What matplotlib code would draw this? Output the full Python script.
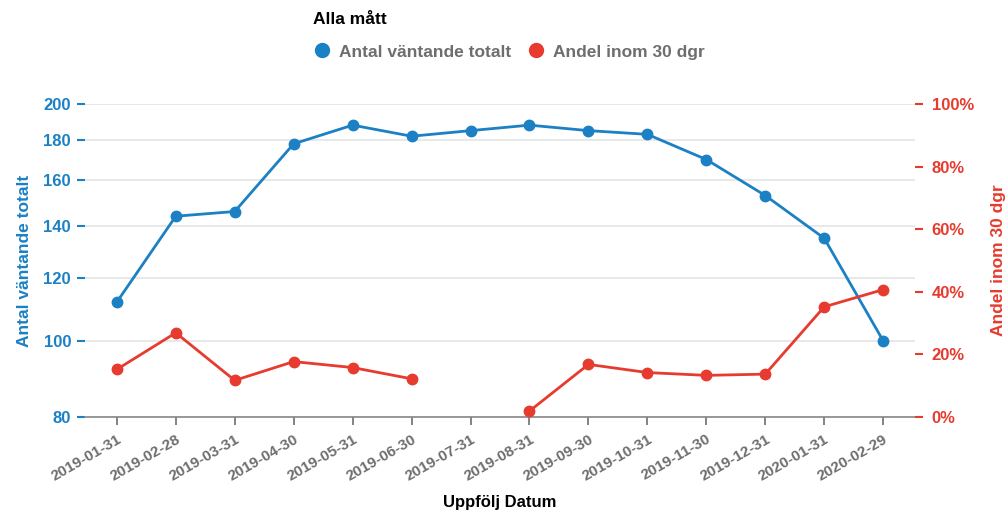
import numpy as np
import matplotlib
matplotlib.use('Agg')
import matplotlib.pyplot as plt
from matplotlib.ticker import FixedLocator, FuncFormatter, NullLocator
from matplotlib.lines import Line2D

plt.rcParams['font.family'] = ['Liberation Sans', 'DejaVu Sans']
plt.rcParams['font.weight'] = 'bold'

# data
datum = ['2019-01-31', '2019-02-28', '2019-03-31', '2019-04-30', '2019-05-31',
         '2019-06-30', '2019-07-31', '2019-08-31', '2019-09-30', '2019-10-31',
         '2019-11-30', '2019-12-31', '2020-01-31', '2020-02-29']
antal = [112, 144, 146, 178, 188, 182, 185, 188, 185, 183, 170, 153, 135, 100]
andel = [0.152, 0.269, 0.117, 0.177, 0.158, 0.122, np.nan, 0.019,
         0.168, 0.142, 0.133, 0.137, 0.352, 0.407]
vanster_ticks = [80, 100, 120, 140, 160, 180, 200]
hoger_ticks = [0, 0.2, 0.4, 0.6, 0.8, 1.0]

bla = '#1b80c4'
rod = '#e63b2e'
gra = '#6e6e6e'

fig = plt.figure(figsize=(10.06, 5.13), dpi=100)
ax = fig.add_axes([85/1006, 1-417/513, (915-85)/1006, (417-104)/513])
x = np.arange(len(datum))

ax.set_yscale('log')
ax.plot(x, antal, '-o', color=bla, lw=2, ms=7.5, zorder=3)
ax.set_ylim(80, 200)
ax.set_xlim(-0.54, len(datum) - 1 + 0.54)
ax.yaxis.set_major_locator(FixedLocator(vanster_ticks))
ax.yaxis.set_minor_locator(NullLocator())
ax.yaxis.set_major_formatter(FuncFormatter(lambda v, p: '%d' % v))
ax.grid(axis='y', color='#e4e4e4', lw=1.2)
ax.set_axisbelow(True)

ax.set_xticks(x)
ax.set_xticklabels(datum, rotation=30, ha='right', rotation_mode='anchor',
                   color=gra, fontsize=11, fontweight='bold')
ax.tick_params(axis='x', colors=gra, length=6, width=1.2, pad=5, labelcolor=gra)
ax.tick_params(axis='y', colors=bla, length=6, width=1.5, pad=4, labelsize=12)

for s in ['top', 'left', 'right']:
    ax.spines[s].set_visible(False)
ax.spines['bottom'].set_color('#888888')
ax.spines['bottom'].set_linewidth(1.2)

ax.set_ylabel('Antal väntande totalt', color=bla, fontsize=12.5, fontweight='bold', labelpad=8)
fig.text(500/1006, 1-503/513, 'Uppfölj Datum', color='black', fontsize=12,
         fontweight='bold', ha='center', va='center')

ax2 = ax.twinx()
ax2.plot(x, andel, '-o', color=rod, lw=2, ms=7.5, zorder=3)
ax2.set_ylim(0, 1)
ax2.yaxis.set_major_locator(FixedLocator(hoger_ticks))
ax2.yaxis.set_major_formatter(FuncFormatter(lambda v, p: '%d%%' % round(v * 100)))
ax2.tick_params(axis='y', colors=rod, length=6, width=1.5, pad=6, labelsize=12)
for s in ['top', 'left', 'right', 'bottom']:
    ax2.spines[s].set_visible(False)
ax2.set_ylabel('Andel inom 30 dgr', color=rod, fontsize=12.5, fontweight='bold', labelpad=12)

fig.text(313/1006, 1-20/513, 'Alla mått', fontsize=12.5, fontweight='bold',
         color='black', ha='left', va='center')
handles = [Line2D([], [], ls='none', marker='o', ms=10, color=bla),
           Line2D([], [], ls='none', marker='o', ms=10, color=rod)]
leg = fig.legend(handles, ['Antal väntande totalt', 'Andel inom 30 dgr'],
                 loc='center', bbox_to_anchor=(509/1006, 1-52/513), ncol=2,
                 frameon=False, handletextpad=0.5, columnspacing=0.9,
                 handlelength=1.0, prop={'size': 12.5, 'weight': 'bold'})
for t in leg.get_texts():
    t.set_color(gra)

fig.savefig('out.png', dpi=100)
